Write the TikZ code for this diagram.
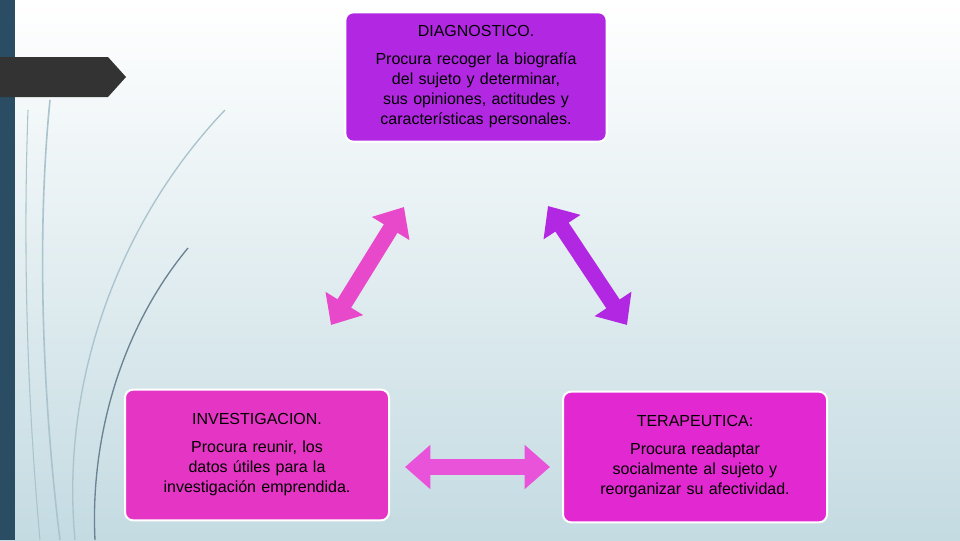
\documentclass[tikz,border=0pt]{standalone}
\usepackage{fontspec}
\setmainfont{Liberation Sans}
\usetikzlibrary{arrows.meta,positioning}
\hyphenpenalty=10000
\definecolor{barblue}{RGB}{42,77,99}
\definecolor{bgbot}{RGB}{196,219,226}
\definecolor{topbox}{RGB}{178,40,226}
\definecolor{leftbox}{RGB}{229,53,196}
\definecolor{rightbox}{RGB}{226,40,208}
\definecolor{swirl}{RGB}{170,195,205}
\begin{document}
\begin{tikzpicture}[x=0.75pt,y=-0.75pt,
  box/.style={draw=white,line width=1.5pt,rounded corners=6pt,align=center,
    text width=#1,inner sep=0pt,font=\fontsize{12}{15}\selectfont},
  dbl/.style={line width=12pt,{Triangle[width=32pt,length=19pt]}-{Triangle[width=32pt,length=19pt]}}]
% background
\shade[top color=white,bottom color=bgbot] (0,0) rectangle (960,540);
\useasboundingbox (0,0) rectangle (960,540);
\fill[barblue] (0,0) rectangle (15,540);
\fill[black!80] (0,57) -- (108,57) -- (126,77) -- (108,97) -- (0,97) -- cycle;
% swirls
\draw[swirl,line width=1.2pt] (50,100) .. controls (35,250) and (45,420) .. (60,540);
\draw[swirl,line width=1pt] (225,110) .. controls (120,220) and (60,380) .. (75,540);
\draw[barblue!70,line width=1pt] (188,248) .. controls (120,330) and (90,440) .. (95,540);
\draw[swirl,line width=0.8pt] (28,110) .. controls (22,280) and (30,430) .. (40,540);
% boxes
\node[box=186pt,fill=topbox,minimum height=97pt,minimum width=196pt] (diag) at (476,77)
  {DIAGNOSTICO.\\[6pt]Procura recoger la biografía del sujeto y determinar, sus opiniones, actitudes y características personales.};
\node[box=172pt,fill=leftbox,minimum height=98pt,minimum width=198pt] (inv) at (257,455)
  {INVESTIGACION.\\[6pt]Procura reunir, los datos útiles para la investigación emprendida.};
\node[box=172pt,fill=rightbox,minimum height=98pt,minimum width=198pt] (ter) at (695,457)
  {TERAPEUTICA:\\[6pt]Procura readaptar socialmente al sujeto y reorganizar su afectividad.};
% arrows
\coordinate (a1) at (331,325); \coordinate (a2) at (404,207);
\coordinate (b1) at (548,206); \coordinate (b2) at (627,325);
\coordinate (c1) at (405,467); \coordinate (c2) at (550,467);
\draw[dbl,color=leftbox!90!white] (a1) -- (a2);
\draw[dbl,color=topbox] (b1) -- (b2);
\draw[dbl,color=rightbox!80!white] (c1) -- (c2);
\end{tikzpicture}
\end{document}
